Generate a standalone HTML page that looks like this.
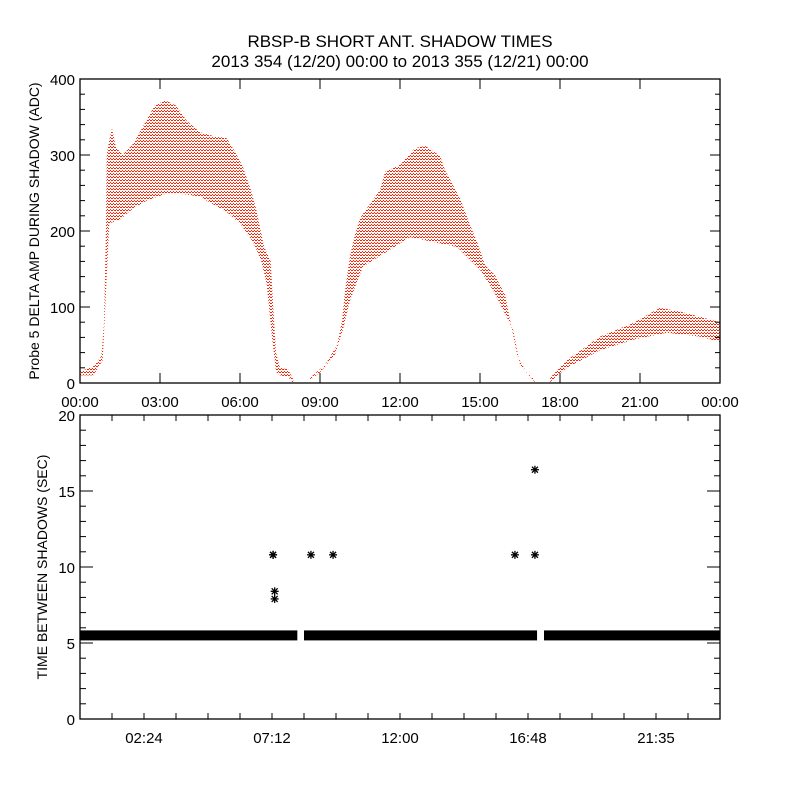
<!DOCTYPE html>
<html><head><meta charset="utf-8"><style>
body{margin:0;background:#fff}
svg{display:block;font-family:"Liberation Sans",sans-serif}
</style></head><body>
<svg id="chart" width="800" height="800" viewBox="0 0 800 800">
<defs>
<pattern id="dots" width="3" height="3" patternUnits="userSpaceOnUse" shape-rendering="crispEdges">
<rect x="0" y="0" width="2" height="1" fill="#ff2000"/>
<rect x="2" y="2" width="1" height="1" fill="#ff2000"/>
</pattern>
</defs>
<text x="400" y="47" text-anchor="middle" font-size="17">RBSP-B SHORT ANT. SHADOW TIMES</text>
<text x="400" y="67" text-anchor="middle" font-size="17">2013 354 (12/20) 00:00 to 2013 355 (12/21) 00:00</text>
<g id="topPanel"></g>
<g id="botPanel"></g>
</svg>
<script>
// ---- Data (hours, ADC) ----
const arc1Upper=[[0,15],[0.5,22],[0.8,35],[0.9,80],[0.97,200],[1.0,300],[1.1,320],[1.2,335],[1.35,310],[1.6,300],[2.0,315],[2.4,340],[2.8,365],[3.2,372],[3.6,365],[4.0,345],[4.5,330],[5.0,325],[5.5,322],[5.8,305],[6.1,285],[6.4,255],[6.6,230],[6.9,180],[7.15,160],[7.25,100],[7.35,40],[7.5,20],[7.8,18],[8.0,5]];
const arc1Lower=[[8.0,0],[7.8,8],[7.5,10],[7.35,15],[7.2,60],[7.0,130],[6.8,160],[6.5,185],[6.0,210],[5.5,225],[5.0,235],[4.5,245],[4.0,248],[3.3,250],[2.5,240],[2.0,230],[1.5,215],[1.1,210],[0.95,100],[0.85,30],[0.5,10],[0,10]];
const arc2Upper=[[8.63,7],[9.19,24],[9.64,50],[9.83,83],[9.94,122],[10.13,168],[10.31,195],[10.5,217],[10.76,230],[11.25,254],[11.44,278],[12.0,287],[12.56,309],[12.94,312],[13.5,299],[13.69,280],[14.25,243],[14.63,208],[14.93,182],[15.19,155],[15.56,142],[15.94,116],[16.13,83],[16.24,63],[16.39,37],[16.69,17],[17.06,4]];
const arc2Lower=[[17.06,1],[16.5,24],[16.24,70],[15.49,122],[15.0,149],[14.14,179],[12.38,192],[10.61,153],[10.13,109],[9.86,70],[9.56,37],[9.0,14],[8.63,4]];
const arc3Upper=[[17.63,7],[18.26,30],[19.5,61],[20.74,79],[21.75,99],[22.61,93],[24,80]];
const arc3Lower=[[24,54],[23.25,61],[22.01,66],[20.74,57],[19.5,43],[18.26,20],[17.63,1]];
const topYTicks=[0,100,200,300,400];
const topXLabels=["00:00","03:00","06:00","09:00","12:00","15:00","18:00","21:00","00:00"];
// bottom panel
const baseSegments=[[0,8.15],[8.4,17.14],[17.4,24]];
const baseValue=5.5;
const starTimes=[7.24,7.24,7.3,7.3,8.66,9.49,16.31,17.06,17.06];
const starValues=[10.8,10.8,8.4,7.9,10.8,10.8,10.8,10.8,16.4];
const botYTicks=[0,5,10,15,20];
const botXLabels=["02:24","07:12","12:00","16:48","21:35"];

const NS="http://www.w3.org/2000/svg";
function mk(tag,attrs,parent){const e=document.createElementNS(NS,tag);for(const k in attrs)e.setAttribute(k,attrs[k]);parent.appendChild(e);return e;}
const L=80,R=720;
const xs=h=>L+(h/24)*(R-L);
const T1=79,B1=383; const y1=v=>B1-(v/400)*(B1-T1);
const T2=415,B2=719; const y2=v=>B2-(v/20)*(B2-T2);
const topG=document.getElementById('topPanel'), botG=document.getElementById('botPanel');

// top bands
[[arc1Upper,arc1Lower],[arc2Upper,arc2Lower],[arc3Upper,arc3Lower]].forEach((a,i)=>{
  const pts=a[0].concat(a[1]).map(p=>xs(p[0]).toFixed(1)+','+y1(p[1]).toFixed(1)).join(' ');
  const p=mk('polygon',{points:pts,fill:'url(#dots)'},topG);
  
  
});
// top axes
let fr=mk('rect',{x:L,y:T1,width:R-L,height:B1-T1,fill:'none',stroke:'#000','stroke-width':1.3},topG);


for(let v=0;v<=400;v+=20){const len=v%100===0?10:5;const y=y1(v);
  mk('line',{x1:L,y1:y,x2:L+len,y2:y,stroke:'#000'},topG);mk('line',{x1:R,y1:y,x2:R-len,y2:y,stroke:'#000'},topG);}
topYTicks.forEach(v=>{const t=mk('text',{x:L-5,y:y1(v)+6,'text-anchor':'end','font-size':15},topG);t.textContent=v;
  
  });
topXLabels.forEach((s,i)=>{const x=xs(i*3);
  mk('line',{x1:x,y1:B1,x2:x,y2:B1-10,stroke:'#000'},topG);mk('line',{x1:x,y1:T1,x2:x,y2:T1+10,stroke:'#000'},topG);
  const t=mk('text',{x:x,y:B1+24,'text-anchor':'middle','font-size':15},topG);t.textContent=s;
  
  });
let yt=mk('text',{transform:'translate(39,231) rotate(-90)','text-anchor':'middle','font-size':14},topG);
yt.textContent='Probe 5 DELTA AMP DURING SHADOW (ADC)';



// bottom baseline
baseSegments.forEach((s,i)=>{const r=mk('rect',{x:xs(s[0]),y:y2(baseValue)-5,width:xs(s[1])-xs(s[0]),height:10,fill:'#000'},botG);
  
  });
starTimes.forEach((h,i)=>{const cx=xs(h),cy=y2(starValues[i]);const g=mk('g',{stroke:'#000','stroke-width':1.3},botG);
  
  
  mk('line',{x1:cx-4,y1:cy,x2:cx+4,y2:cy},g);mk('line',{x1:cx,y1:cy-4,x2:cx,y2:cy+4},g);
  mk('line',{x1:cx-3,y1:cy-3,x2:cx+3,y2:cy+3},g);mk('line',{x1:cx-3,y1:cy+3,x2:cx+3,y2:cy-3},g);});
let fr2=mk('rect',{x:L,y:T2,width:R-L,height:B2-T2,fill:'none',stroke:'#000','stroke-width':1.3},botG);


for(let v=0;v<=20;v++){const len=v%5===0?13:6;const y=y2(v);
  mk('line',{x1:L,y1:y,x2:L+len,y2:y,stroke:'#000'},botG);mk('line',{x1:R,y1:y,x2:R-len,y2:y,stroke:'#000'},botG);}
botYTicks.forEach(v=>{const t=mk('text',{x:L-5,y:y2(v)+6,'text-anchor':'end','font-size':15},botG);t.textContent=v;
  
  });
for(let k=1;k<20;k++){const x=xs(k*1.2);
  mk('line',{x1:x,y1:B2,x2:x,y2:B2-6,stroke:'#000'},botG);mk('line',{x1:x,y1:T2,x2:x,y2:T2+6,stroke:'#000'},botG);}
botXLabels.forEach((s,i)=>{const x=xs(2.4+i*4.8);
  const t=mk('text',{x:x,y:B2+24,'text-anchor':'middle','font-size':15},botG);t.textContent=s;
  
  });
let yt2=mk('text',{transform:'translate(47,567) rotate(-90)','text-anchor':'middle','font-size':14},botG);
yt2.textContent='TIME BETWEEN SHADOWS (SEC)';


</script>
</body></html>
